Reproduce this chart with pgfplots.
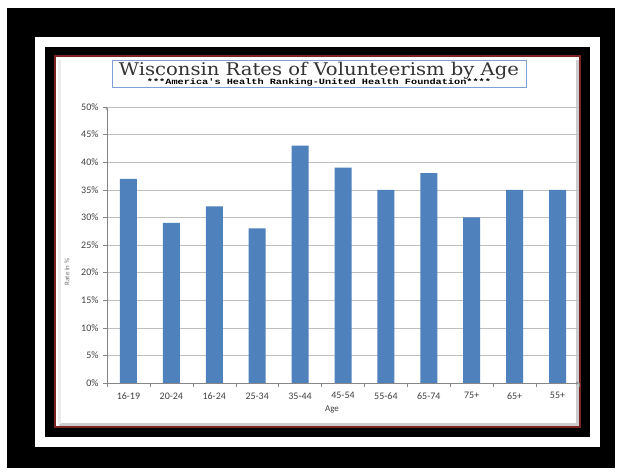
\documentclass[border=0pt]{standalone}
\usepackage{fontspec}
\setmainfont{Carlito}
\newfontfamily\titlefont{DejaVu Serif}
\newfontfamily\subfont{Liberation Mono}
\usepackage{graphicx}
\usepackage{pgfplots}
\pgfplotsset{compat=1.18}
\definecolor{barBlue}{HTML}{4F81BD}
\definecolor{gridG}{HTML}{BFBFBF}
\definecolor{axisG}{HTML}{868686}
\definecolor{frameRed}{HTML}{7A2424}
\definecolor{boxBlue}{HTML}{7EA0D6}
\definecolor{inkT}{HTML}{404040}

\pgfplotstableread{
x age rate
0 16-19 37
1 20-24 29
2 16-24 32
3 25-34 28
4 35-44 43
5 45-54 39
6 55-64 35
7 65-74 38
8 75+ 30
9 65+ 35
10 55+ 35
}\ratetable

\begin{document}
\begin{tikzpicture}[x=1pt,y=1pt]
% frame, image coordinates with y flipped (472 - y)
\fill[white] (0,0) rectangle (622,472);
\fill[black] (7,4) rectangle (615,464);
\fill[white] (35,25) rectangle (600,435);
\fill[black] (45,35) rectangle (590,425);
\fill[white] (55,45) rectangle (580,416);
\draw[black!20, line width=3pt] (59,48) -- (577,48) -- (577,412);
\draw[black!8, line width=3pt] (59,412) -- (59,48);
\draw[frameRed, line width=1.4pt] (55,45) rectangle (580,416);

\begin{axis}[
  at={(107pt,89pt)}, anchor=south west,
  scale only axis, width=472pt, height=276pt,
  xmin=-0.5, xmax=10.5, ymin=0, ymax=50,
  axis lines=left, axis line style={axisG, thin},
  axis x line*=bottom,
  ybar, bar width=17pt,
  xtick={0,...,10},
  xticklabels={16-19,20-24,16-24,25-34,35-44,45-54,55-64,65-74,75+,65+,55+},
  minor xtick={-0.5,0.5,...,10.5},
  major x tick style={draw=none},
  minor tick length=4pt,
  tick align=outside,
  every tick/.append style={axisG, thin},
  ytick={0,5,...,50},
  yticklabels={0\%,5\%,10\%,15\%,20\%,25\%,30\%,35\%,40\%,45\%,50\%},
  major tick length=4pt,
  ymajorgrids, grid style={gridG, thin},
  ticklabel style={font=\fontsize{10}{12}\selectfont, color=inkT},
  xticklabel style={yshift=-2pt},
  yticklabel style={xshift=-1pt},
  clip=false,
]
  \addplot[fill=barBlue, draw=none] table[x=x, y=rate] {\ratetable};
\end{axis}

\node[font=\fontsize{9}{10}\selectfont, color=inkT] at (332,63) {Age};
\node[font=\fontsize{7}{8}\selectfont, color=black!55, rotate=90] at (67,200) {Rate In \%};

% title box
\draw[boxBlue, fill=white, line width=0.8pt] (112,385) rectangle (526,412);
\node[font=\titlefont\fontsize{17.5}{20}\selectfont, color=black!80, anchor=base, inner sep=0pt] at (319,396.5) {\scalebox{1.12}[1]{Wisconsin Rates of Volunteerism by Age}};
\node[font=\subfont\bfseries\fontsize{8}{9}\selectfont, color=black, anchor=base, inner sep=0pt] at (319,387) {\scalebox{1.28}[1]{***America's Health Ranking-United Health Foundation****}};
\end{tikzpicture}
\end{document}
